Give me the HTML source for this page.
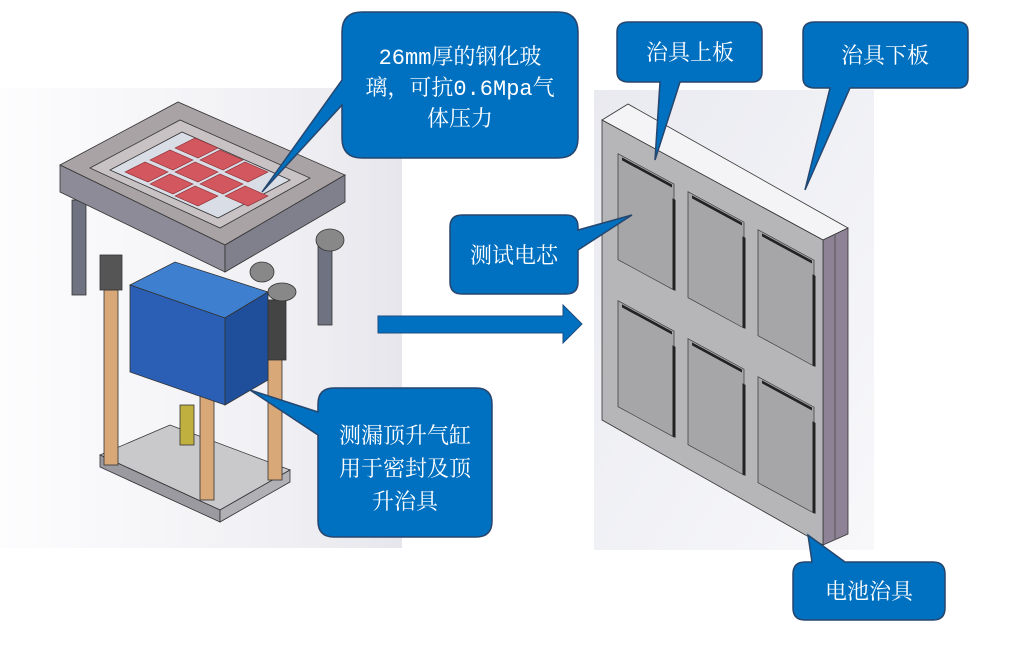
<!DOCTYPE html>
<html><head><meta charset="utf-8"><style>
html,body{margin:0;padding:0;background:#fff;}
svg{display:block}
text{font-family:"Liberation Mono","Noto Serif CJK SC","Noto Sans CJK SC",monospace;fill:#fff;font-size:22px;}
</style></head><body>
<svg width="1009" height="648" viewBox="0 0 1009 648" xmlns="http://www.w3.org/2000/svg">
<defs>
<linearGradient id="bgL" x1="0" x2="1" y1="0" y2="0"><stop offset="0" stop-color="#fdfdfe"/><stop offset="0.7" stop-color="#f0f0f4"/><stop offset="1" stop-color="#e6e6ec"/></linearGradient>
<linearGradient id="bgR" x1="0" x2="1" y1="0" y2="1"><stop offset="0" stop-color="#e9eaf0"/><stop offset="1" stop-color="#f8f8fb"/></linearGradient>
</defs>
<rect x="0" y="88" width="402" height="460" fill="url(#bgL)"/>
<rect x="594" y="90" width="280" height="460" fill="url(#bgR)"/>

<g stroke="#333" stroke-width="0.8">
<polygon points="100,455 170,425 290,470 220,510" fill="#c9c9cc"/>
<polygon points="100,455 220,510 220,522 100,467" fill="#9a9aa0"/>
<polygon points="220,510 290,470 290,482 220,522" fill="#b0b0b5"/>
<rect x="72" y="200" width="14" height="95" fill="#6f7280"/>
<rect x="318" y="240" width="14" height="85" fill="#6f7280"/>
<rect x="222" y="290" width="12" height="80" fill="#6f7280"/>
<rect x="104" y="290" width="14" height="175" fill="#d9a878"/>
<rect x="200" y="300" width="14" height="200" fill="#d9a878"/>
<rect x="268" y="300" width="14" height="180" fill="#d9a878"/>
<rect x="100" y="255" width="22" height="35" fill="#555"/>
<rect x="196" y="335" width="22" height="60" fill="#444"/>
<rect x="264" y="300" width="22" height="60" fill="#444"/>
<polygon points="130,285 175,262 268,292 225,318" fill="#3f7fd0"/>
<polygon points="130,285 225,318 225,405 130,372" fill="#2a5fb5"/>
<polygon points="225,318 268,292 268,380 225,405" fill="#1f4f9a"/>
<rect x="180" y="405" width="14" height="40" fill="#c0b040"/>
<polygon points="60,165 178,102 345,175 225,245" fill="#a9a3a6"/>
<polygon points="60,165 225,245 225,272 60,192" fill="#8c8b97"/>
<polygon points="225,245 345,175 345,202 225,272" fill="#807f8c"/>
<polygon points="90,168 180,120 310,178 220,228" fill="#c8c2c4"/>
<polygon points="110,170 182,132 290,180 218,218" fill="#d9dde6"/>
</g>
<g fill="#d2575e" stroke="#8a2a30" stroke-width="0.6">
<polygon points="125,172 145,162 168,172 148,182"/>
<polygon points="150,160 170,150 193,160 173,170"/>
<polygon points="175,148 195,138 218,148 198,158"/>
<polygon points="150,184 170,174 193,184 173,194"/>
<polygon points="175,172 195,162 218,172 198,182"/>
<polygon points="200,160 220,150 243,160 223,170"/>
<polygon points="175,196 195,186 218,196 198,206"/>
<polygon points="200,184 220,174 243,184 223,194"/>
<polygon points="225,172 245,162 268,172 248,182"/>
<polygon points="225,196 245,186 268,196 248,206"/>
</g>
<g fill="#888" stroke="#333" stroke-width="0.8">
<ellipse cx="330" cy="240" rx="14" ry="11"/>
<ellipse cx="262" cy="272" rx="12" ry="10"/>
<ellipse cx="282" cy="292" rx="14" ry="9"/>
</g>

<!-- Right fixture -->
<polygon points="602,120 628,104 848,228 823,240" fill="#f4f4f6" stroke="#333" stroke-width="0.8"/>
<polygon points="823,240 848,228 848,534 823,545" fill="#8e8396" stroke="#333" stroke-width="0.8"/>
<line x1="835" y1="234" x2="835" y2="540" stroke="#555"/>
<polygon points="602,120 823,240 823,545 602,420" fill="#b6b6b8" stroke="#333" stroke-width="0.8"/>
<g transform="matrix(1,0.543,0,1,602,120)" fill="#a6a6a8" stroke="#333" stroke-width="0.7">
<rect x="16" y="25" width="56" height="106"/>
<rect x="86" y="25" width="56" height="106"/>
<rect x="156" y="25" width="56" height="106"/>
<rect x="16" y="172" width="56" height="106"/>
<rect x="86" y="172" width="56" height="106"/>
<rect x="156" y="172" width="56" height="106"/>
<g fill="none" stroke="#222" stroke-width="3">
<line x1="20" y1="28" x2="70" y2="28"/><line x1="90" y1="28" x2="140" y2="28"/><line x1="160" y1="28" x2="210" y2="28"/>
<line x1="20" y1="175" x2="70" y2="175"/><line x1="90" y1="175" x2="140" y2="175"/><line x1="160" y1="175" x2="210" y2="175"/>
<line x1="72" y1="40" x2="72" y2="131"/><line x1="142" y1="40" x2="142" y2="131"/><line x1="212" y1="40" x2="212" y2="131"/>
<line x1="72" y1="187" x2="72" y2="278"/><line x1="142" y1="187" x2="142" y2="278"/><line x1="212" y1="187" x2="212" y2="278"/>
</g>
</g>

<polygon points="378,316 563,316 563,305 582,324 563,343 563,333 378,333" fill="#0070c0" stroke="#1d4d80" stroke-width="1"/>

<g fill="#0070c0" stroke="#26466e" stroke-width="1.5">
<path d="M362,12 H558 Q578,12 578,32 V138 Q578,158 558,158 H362 Q342,158 342,138 V105 L262,192 L342,80 V32 Q342,12 362,12 Z"/>
<path d="M629,22 H752 Q762,22 762,32 V72 Q762,82 752,82 H680 L655,160 L660,82 H629 Q617,82 617,72 V32 Q617,22 629,22 Z"/>
<path d="M815,22 H958 Q968,22 968,32 V78 Q968,88 958,88 H850 L805,190 L830,88 H815 Q803,88 803,78 V32 Q803,22 815,22 Z"/>
<path d="M462,215 H566 Q578,215 578,227 V230 L632,215 L578,250 V282 Q578,294 566,294 H462 Q450,294 450,282 V227 Q450,215 462,215 Z"/>
<path d="M334,388 H476 Q492,388 492,404 V521 Q492,537 476,537 H334 Q318,537 318,521 V435 L250,390 L318,412 V404 Q318,388 334,388 Z"/>
<path d="M805,562 H812 L808,535 L845,562 H933 Q945,562 945,574 V608 Q945,620 933,620 H805 Q793,620 793,608 V574 Q793,562 805,562 Z"/>
</g>
<g text-anchor="middle" stroke="none">
<text x="460" y="64">26mm厚的钢化玻</text>
<text x="460" y="95">璃，可抗0.6Mpa气</text>
<text x="460" y="126">体压力</text>
<text x="690" y="60">治具上板</text>
<text x="885" y="63">治具下板</text>
<text x="514" y="263">测试电芯</text>
<text x="405" y="443">测漏顶升气缸</text>
<text x="405" y="476">用于密封及顶</text>
<text x="405" y="509">升治具</text>
<text x="869" y="599">电池治具</text>
</g>
</svg>
</body></html>
